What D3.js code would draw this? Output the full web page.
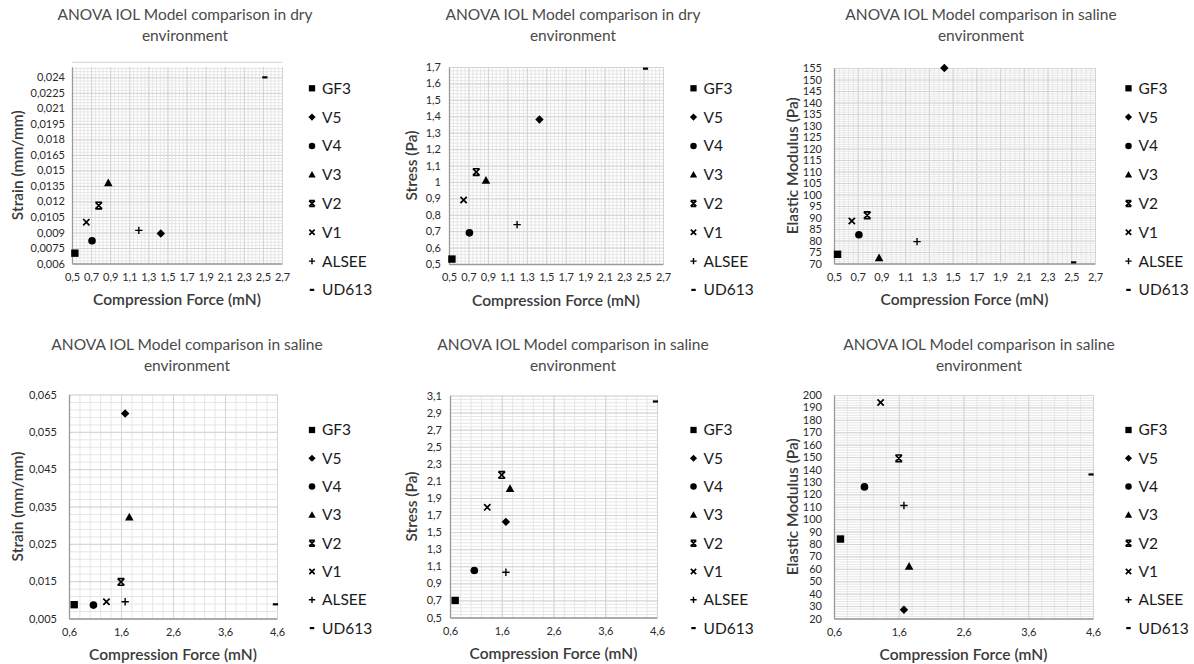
<!DOCTYPE html>
<html>
<head>
<meta charset="utf-8">
<script src="https://cdn.jsdelivr.net/npm/d3@7"></script>
<style>
  body { margin: 0; background: #fff; }
  svg text { font-family: Lato, "Open Sans", sans-serif; }
</style>
</head>
<body>
<svg id="chart" width="1194" height="664"></svg>
<script>
// IOL models, in legend order
const models = ["GF3", "V5", "V4", "V3", "V2", "V1", "ALSEE", "UD613"];
const markerTypes = ["square", "diamond", "circle", "triangle", "xbar", "x", "plus", "dash"];

// compression force (mN), top row and bottom row
const forceTop = [0.53, 1.43, 0.71, 0.88, 0.78, 0.65, 1.20, 2.52];
const forceBottom = [0.70, 1.68, 1.07, 1.76, 1.60, 1.32, 1.68, 4.57];

// y values
const strainDry = [0.0070, 0.0089, 0.0082, 0.0138, 0.0116, 0.0100, 0.0092, 0.0240];
const stressDry = [0.53, 1.38, 0.69, 1.01, 1.06, 0.89, 0.74, 1.69];
const modulusTop = [74, 155, 82.5, 72.5, 91, 88.5, 79.5, 70.5];
const strainSaline = [0.0087, 0.0599, 0.0086, 0.0322, 0.0148, 0.0095, 0.0095, 0.0088];
const stressSaline = [0.70, 1.62, 1.05, 2.01, 2.17, 1.79, 1.03, 3.03];
const modulusSaline = [84, 27, 126, 62, 149, 194, 111, 136];

// tick labels
const forceTicksTop = [0.5, 0.7, 0.9, 1.1, 1.3, 1.5, 1.7, 1.9, 2.1, 2.3, 2.5, 2.7];
const forceTicksBottom = [0.6, 1.6, 2.6, 3.6, 4.6];
const strainTicksDry = [0.006, 0.0075, 0.009, 0.0105, 0.012, 0.0135, 0.015, 0.0165, 0.018, 0.0195, 0.021, 0.0225, 0.024];
const stressTicksDry = [0.5, 0.6, 0.7, 0.8, 0.9, 1, 1.1, 1.2, 1.3, 1.4, 1.5, 1.6, 1.7];
const modulusTicksTop = [70, 75, 80, 85, 90, 95, 100, 105, 110, 115, 120, 125, 130, 135, 140, 145, 150, 155];
const strainTicksSaline = [0.005, 0.015, 0.025, 0.035, 0.045, 0.055, 0.065];
const stressTicksSaline = [0.5, 0.7, 0.9, 1.1, 1.3, 1.5, 1.7, 1.9, 2.1, 2.3, 2.5, 2.7, 2.9, 3.1];
const modulusTicksSaline = [20, 30, 40, 50, 60, 70, 80, 90, 100, 110, 120, 130, 140, 150, 160, 170, 180, 190, 200];

const titleDry = ["ANOVA IOL Model comparison in dry", "environment"];
const titleSaline = ["ANOVA IOL Model comparison in saline", "environment"];
const xLabel = "Compression Force (mN)";

const panels = [
  { title: titleDry, yLabel: "Strain (mm/mm)", xs: forceTop, ys: strainDry,
    xDomain: [0.5, 2.7], yDomain: [0.006, 0.025], xTicks: forceTicksTop, yTicks: strainTicksDry,
    xMinor: 0.04, yMinor: 0.0003,
    box: { l: 72, r: 282, t: 67, b: 263.5 }, gap: 7, yTitleX: 18, titleX: 185, titleY: 20, legX: 312, legY: 88.3, legStep: 28.8 },
  { title: titleDry, yLabel: "Stress (Pa)", xs: forceTop, ys: stressDry,
    xDomain: [0.5, 2.7], yDomain: [0.5, 1.7], xTicks: forceTicksTop, yTicks: stressTicksDry,
    xMinor: 0.04, yMinor: 0.02,
    box: { l: 449, r: 663, t: 67, b: 264 }, gap: 8, yTitleX: 412, titleX: 573, titleY: 20, legX: 693.5, legY: 88.3, legStep: 28.8 },
  { title: titleSaline, yLabel: "Elastic Modulus (Pa)", xs: forceTop, ys: modulusTop,
    xDomain: [0.5, 2.7], yDomain: [70, 155], xTicks: forceTicksTop, yTicks: modulusTicksTop,
    xMinor: 0.04, yMinor: 1,
    box: { l: 834, r: 1095, t: 68, b: 263.5 }, gap: 12, yTitleX: 793, titleX: 981, titleY: 20, legX: 1128.5, legY: 88.3, legStep: 28.8 },
  { title: titleSaline, yLabel: "Strain (mm/mm)", xs: forceBottom, ys: strainSaline,
    xDomain: [0.6, 4.6], yDomain: [0.005, 0.065], xTicks: forceTicksBottom, yTicks: strainTicksSaline,
    xMinor: 0.2, yMinor: 0.002,
    box: { l: 69, r: 277, t: 394.5, b: 618.5 }, gap: 12, yTitleX: 18, titleX: 187, titleY: 350, legX: 312, legY: 430, legStep: 28.3 },
  { title: titleSaline, yLabel: "Stress (Pa)", xs: forceBottom, ys: stressSaline,
    xDomain: [0.6, 4.6], yDomain: [0.5, 3.1], xTicks: forceTicksBottom, yTicks: stressTicksSaline,
    xMinor: 0.2, yMinor: 0.04,
    box: { l: 450, r: 657, t: 395.5, b: 617.5 }, gap: 8, yTitleX: 412, titleX: 573, titleY: 350, legX: 693.5, legY: 430, legStep: 28.3 },
  { title: titleSaline, yLabel: "Elastic Modulus (Pa)", xs: forceBottom, ys: modulusSaline,
    xDomain: [0.6, 4.6], yDomain: [20, 200], xTicks: forceTicksBottom, yTicks: modulusTicksSaline,
    xMinor: 0.2, yMinor: 2,
    box: { l: 834, r: 1093, t: 395, b: 618.5 }, gap: 12, yTitleX: 793, titleX: 979, titleY: 350, legX: 1128.5, legY: 430, legStep: 28.3 }
];

const fmt = v => String(+v.toFixed(4)).replace(".", ",");

// marker paths centred on 0,0
function markerPath(type, k) {
  const s = 3.7 * k;
  switch (type) {
    case "square": return `M${-s},${-s}H${s}V${s}H${-s}Z`;
    case "diamond": { const d = 4.2 * k; return `M0,${-d}L${d},0L0,${d}L${-d},0Z`; }
    case "circle": return d3.symbol(d3.symbolCircle, 46 * k * k)();
    case "triangle": { const h = 4.3 * k; return `M0,${-h}L${h},${h * 0.8}L${-h},${h * 0.8}Z`; }
    case "xbar": return `M${-s * 0.9},${-s * 0.9}L${s * 0.9},${s * 0.9}M${s * 0.9},${-s * 0.9}L${-s * 0.9},${s * 0.9}M${-s * 0.9},${-s * 0.9}H${s * 0.9}M${-s * 0.9},${s * 0.9}H${s * 0.9}`;
    case "x": return `M${-s * 0.85},${-s * 0.85}L${s * 0.85},${s * 0.85}M${s * 0.85},${-s * 0.85}L${-s * 0.85},${s * 0.85}`;
    case "plus": return `M${-s},0H${s}M0,${-s}V${s}`;
    case "dash": return `M${-2.6 * k},0H${2.6 * k}`;
  }
}
const filled = t => ["square", "diamond", "circle", "triangle"].includes(t);

function drawMarker(g, type, k) {
  const p = g.append("path").attr("d", markerPath(type, k));
  if (filled(type)) p.attr("fill", "#000");
  else p.attr("fill", "none").attr("stroke", "#000")
    .attr("stroke-width", type === "dash" ? 2.2 : (type === "plus" ? 1.4 : 1.7));
}

function steps(lo, hi, step) {
  const n = Math.round((hi - lo) / step);
  return d3.range(n + 1).map(i => +(lo + i * step).toFixed(6));
}

const svg = d3.select("#chart");

panels.forEach(p => {
  const b = p.box;
  const x = d3.scaleLinear().domain(p.xDomain).range([b.l, b.r]);
  const y = d3.scaleLinear().domain(p.yDomain).range([b.b, b.t]);
  const g = svg.append("g");

  // minor grid
  g.append("g").attr("transform", `translate(0,${b.b})`)
    .call(d3.axisBottom(x).tickValues(steps(p.xDomain[0], p.xDomain[1], p.xMinor)).tickSize(b.t - b.b).tickFormat(""))
    .call(a => a.select(".domain").remove())
    .selectAll("line").attr("stroke", "#e6e6e6");
  g.append("g").attr("transform", `translate(${b.l},0)`)
    .call(d3.axisLeft(y).tickValues(steps(p.yDomain[0], p.yDomain[1], p.yMinor)).tickSize(b.l - b.r).tickFormat(""))
    .call(a => a.select(".domain").remove())
    .selectAll("line").attr("stroke", "#e6e6e6");

  // major grid
  g.append("g").attr("transform", `translate(0,${b.b})`)
    .call(d3.axisBottom(x).tickValues(p.xTicks).tickSize(b.t - b.b).tickFormat(""))
    .call(a => a.select(".domain").remove())
    .selectAll("line").attr("stroke", "#d4d4d4");
  g.append("g").attr("transform", `translate(${b.l},0)`)
    .call(d3.axisLeft(y).tickValues(steps(p.yDomain[0], p.yDomain[1], p.yMinor * 5)).tickSize(b.l - b.r).tickFormat(""))
    .call(a => a.select(".domain").remove())
    .selectAll("line").attr("stroke", "#d4d4d4");

  // axes
  const ax = g.append("g").attr("transform", `translate(0,${b.b})`)
    .call(d3.axisBottom(x).tickValues(p.xTicks).tickFormat(fmt).tickSize(0).tickPadding(9.6));
  ax.select(".domain").attr("stroke", "#9a9a9a").attr("stroke-width", 1.3);
  const ay = g.append("g").attr("transform", `translate(${b.l},0)`)
    .call(d3.axisLeft(y).tickValues(p.yTicks).tickFormat(fmt).tickSize(0).tickPadding(p.gap));
  ay.select(".domain").attr("stroke", "#9a9a9a").attr("stroke-width", 1.3);
  g.selectAll(".tick text")
    .attr("font-family", "'Liberation Serif', serif")
    .attr("font-size", 11).attr("fill", "#2a2a2a");

  // points
  p.ys.forEach((v, i) => {
    const m = g.append("g").attr("transform", `translate(${x(p.xs[i])},${y(v)})`);
    drawMarker(m, markerTypes[i], 1);
  });

  // title
  g.append("text").attr("x", p.titleX).attr("y", p.titleY).attr("dy", "0.35em")
    .attr("text-anchor", "middle").attr("font-size", 15.5).attr("fill", "#4a4a4a")
    .selectAll("tspan").data(p.title).join("tspan")
    .attr("x", p.titleX).attr("dy", (d, i) => i ? 21 : 0).text(d => d);

  // axis titles
  g.append("text").attr("x", (b.l + b.r) / 2).attr("y", b.b + 36.5).attr("dy", "0.35em")
    .attr("text-anchor", "middle").attr("font-size", 15.5).attr("font-weight", 600).attr("fill", "#3a3a3a")
    .text(xLabel);
  g.append("text").attr("transform", `translate(${p.yTitleX},${(b.t + b.b) / 2}) rotate(-90)`).attr("dy", "0.35em")
    .attr("text-anchor", "middle").attr("font-size", 15.5).attr("font-weight", 600).attr("fill", "#3a3a3a")
    .text(p.yLabel);

  // legend
  models.forEach((name, i) => {
    const ly = p.legY + i * p.legStep;
    const m = g.append("g").attr("transform", `translate(${p.legX},${ly})`);
    drawMarker(m, markerTypes[i], 0.85);
    g.append("text").attr("x", p.legX + 10).attr("y", ly).attr("dy", "0.35em")
      .attr("font-size", 15.5).attr("fill", "#1a1a1a").text(name);
  });
});
</script>
</body>
</html>
